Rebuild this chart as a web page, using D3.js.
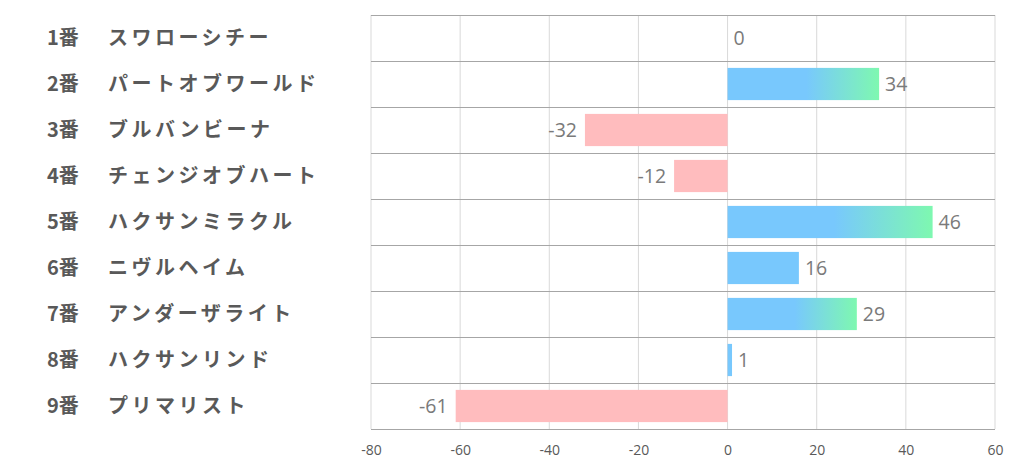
<!DOCTYPE html>
<html>
<head>
<meta charset="utf-8">
<script src="https://cdn.jsdelivr.net/npm/d3@7"></script>
<style>
  body { margin: 0; background: #fff; }
  svg { display: block; }
</style>
</head>
<body>
<div id="chart"></div>
<script>
// data
var nums = ['1番', '2番', '3番', '4番', '5番', '6番', '7番', '8番', '9番'];
var names = ['スワローシチー', 'パートオブワールド', 'ブルバンビーナ', 'チェンジオブハート',
             'ハクサンミラクル', 'ニヴルヘイム', 'アンダーザライト', 'ハクサンリンド', 'プリマリスト'];
var values = [0, 34, -32, -12, 46, 16, 29, 1, -61];
var xTicks = [-80, -60, -40, -20, 0, 20, 40, 60];

var width = 1022, height = 470;
var margin = {top: 15, right: 27, bottom: 41, left: 371};

var svg = d3.select('#chart').append('svg')
    .attr('width', width)
    .attr('height', height);

var x = d3.scaleLinear().domain([-80, 60]).range([margin.left, width - margin.right]);
var y = d3.scaleBand().domain(d3.range(values.length))
    .range([margin.top, height - margin.bottom])
    .paddingInner(0.3).paddingOuter(0.15);

var defs = svg.append('defs');
var grad = defs.append('linearGradient')
    .attr('id', 'blueGreen')
    .attr('x1', '0%').attr('x2', '100%').attr('y1', '0%').attr('y2', '0%');
grad.append('stop').attr('offset', '0%').attr('stop-color', '#78c8fd');
grad.append('stop').attr('offset', '52%').attr('stop-color', '#78c8fd');
grad.append('stop').attr('offset', '100%').attr('stop-color', '#7ef8b0');

// vertical grid
svg.append('g')
  .selectAll('line')
  .data(xTicks)
  .join('line')
    .attr('x1', d => x(d)).attr('x2', d => x(d))
    .attr('y1', margin.top).attr('y2', height - margin.bottom)
    .attr('stroke', '#d9d9d9')
    .attr('stroke-width', 1);

// horizontal row lines
var rowLines = d3.range(values.length + 1).map(i => margin.top + i * (height - margin.top - margin.bottom) / values.length);
svg.append('g')
  .selectAll('line')
  .data(rowLines)
  .join('line')
    .attr('x1', margin.left).attr('x2', width - margin.right)
    .attr('y1', d => Math.round(d) + 0.5).attr('y2', d => Math.round(d) + 0.5)
    .attr('stroke', '#a6a6a6')
    .attr('stroke-width', 1);

// bars
svg.append('g')
  .selectAll('rect')
  .data(values)
  .join('rect')
    .attr('x', d => x(Math.min(0, d)))
    .attr('y', (d, i) => y(i))
    .attr('width', d => Math.abs(x(d) - x(0)))
    .attr('height', y.bandwidth())
    .attr('fill', d => d < 0 ? '#ffbcbe' : (d >= 20 ? 'url(#blueGreen)' : '#78c8fd'));

// value labels
svg.append('g')
  .selectAll('text')
  .data(values)
  .join('text')
    .attr('x', d => d < 0 ? x(d) - 8 : x(d) + 6)
    .attr('y', (d, i) => y(i) + y.bandwidth() / 2)
    .attr('dy', '0.38em')
    .attr('text-anchor', d => d < 0 ? 'end' : 'start')
    .attr('font-family', 'Open Sans, Noto Sans, sans-serif')
    .attr('font-size', 19.5)
    .attr('fill', '#7a7a7a')
    .text(d => d);

// row labels
var labels = svg.append('g')
  .selectAll('g')
  .data(nums)
  .join('g')
    .attr('transform', (d, i) => `translate(0,${y(i) + y.bandwidth() / 2})`)
    .attr('font-family', 'Noto Sans CJK JP, sans-serif')
    .attr('font-weight', 'bold')
    .attr('font-size', 20)
    .attr('fill', '#595959');
labels.append('text')
    .attr('x', 47)
    .attr('dy', '0.36em')
    .text(d => d);
labels.append('text')
    .attr('x', 108)
    .attr('dy', '0.36em')
    .attr('letter-spacing', 3.5)
    .text((d, i) => names[i]);

// x axis
var xAxis = d3.axisBottom(x).tickValues(xTicks).tickFormat(d => String(d)).tickSize(0).tickPadding(16);
var ax = svg.append('g')
    .attr('transform', `translate(0,${height - margin.bottom})`)
    .call(xAxis);
ax.select('.domain').remove();
ax.selectAll('text')
    .attr('font-family', 'Open Sans, Noto Sans, sans-serif')
    .attr('font-size', 14)
    .attr('fill', '#595959');
</script>
</body>
</html>
